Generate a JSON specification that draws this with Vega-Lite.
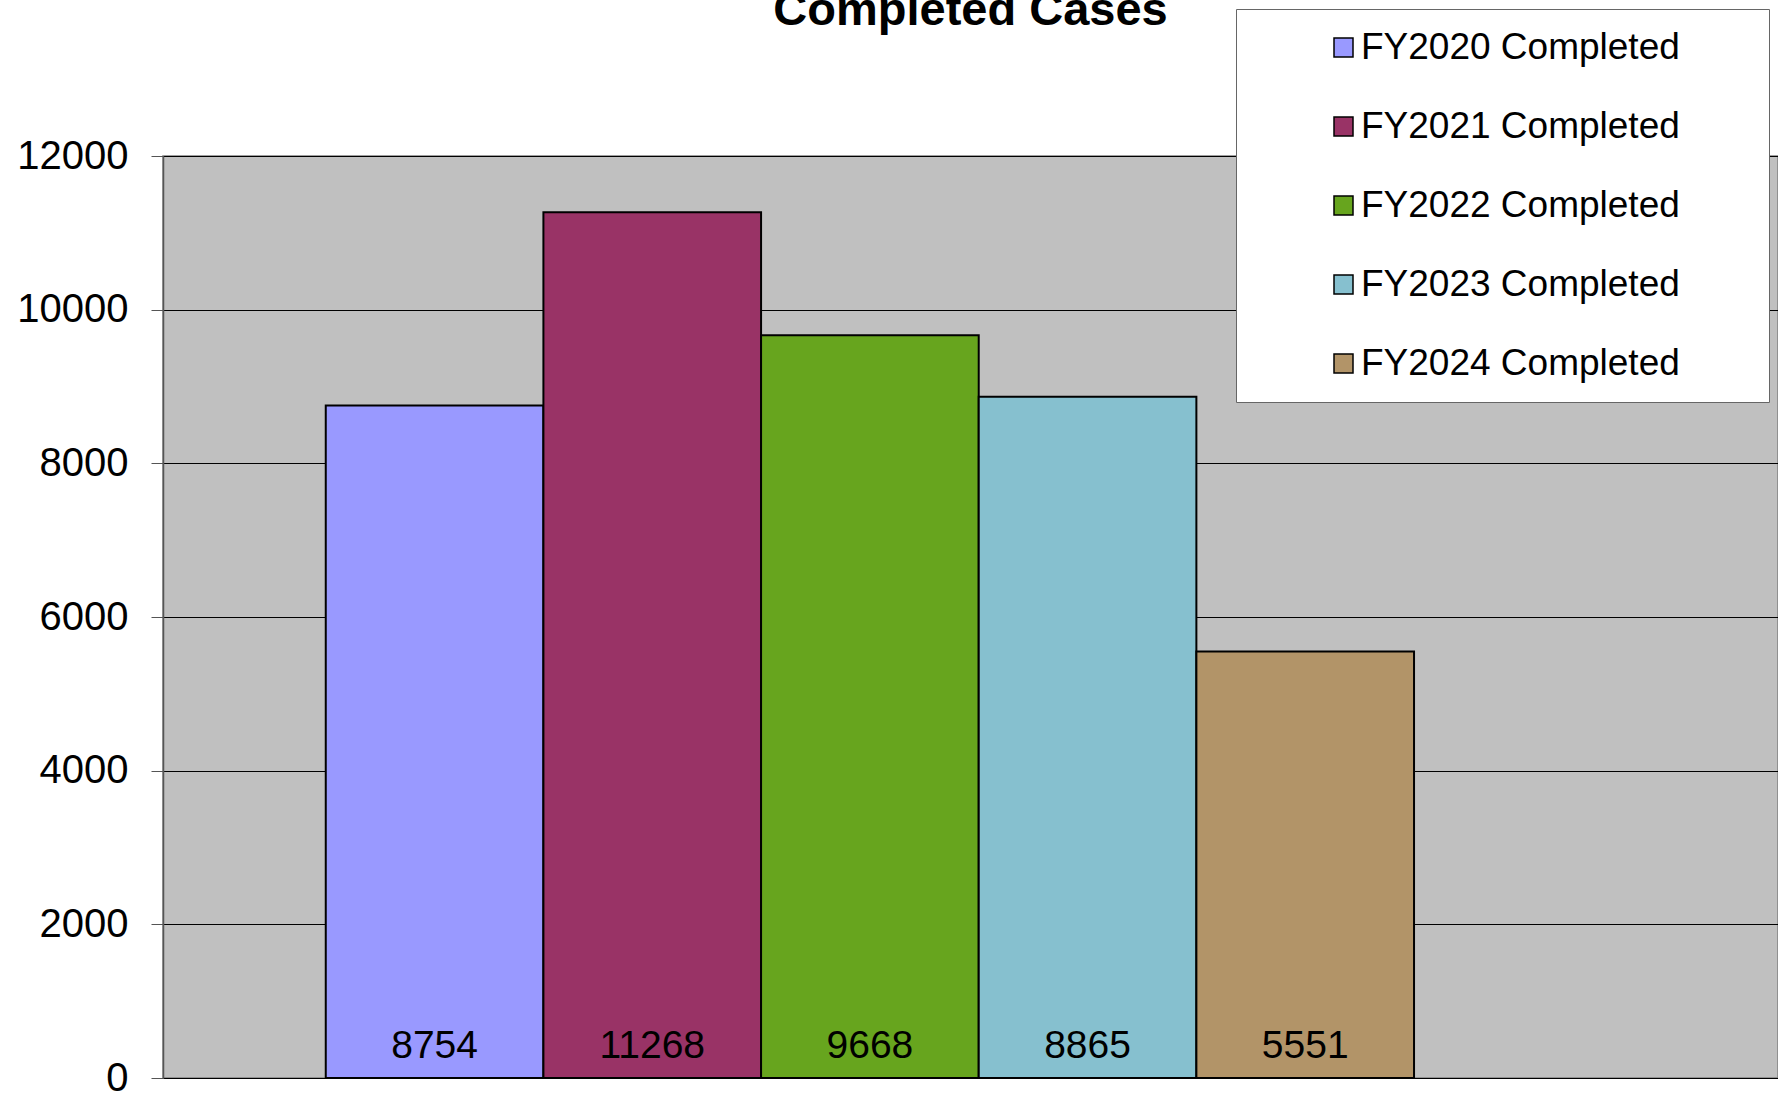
{
  "$schema": "https://vega.github.io/schema/vega-lite/v6.json",
  "width": 1615,
  "height": 922,
  "autosize": {"type": "none"},
  "padding": {"left": 163, "top": 156, "right": 0, "bottom": 15},
  "background": "white",
  "config": {
    "view": {"fill": "#C0C0C0", "stroke": "#808080", "strokeWidth": 1.5},
    "font": "Liberation Sans"
  },
  "title": {
    "text": "Completed Cases",
    "fontSize": 47,
    "fontWeight": "bold",
    "font": "Liberation Sans",
    "color": "black",
    "anchor": "middle",
    "baseline": "alphabetic",
    "offset": -63,
    "frame": "group"
  },
  "data": {
    "values": [
      {"category": "Completed", "series": "FY2020 Completed", "completed": 8754},
      {"category": "Completed", "series": "FY2021 Completed", "completed": 11268},
      {"category": "Completed", "series": "FY2022 Completed", "completed": 9668},
      {"category": "Completed", "series": "FY2023 Completed", "completed": 8865},
      {"category": "Completed", "series": "FY2024 Completed", "completed": 5551}
    ]
  },
  "encoding": {
    "x": {
      "field": "category",
      "type": "nominal",
      "scale": {"paddingInner": 0, "paddingOuter": 0.242, "align": 0.309},
      "axis": null
    },
    "xOffset": {
      "field": "series",
      "type": "nominal",
      "sort": null,
      "scale": {"paddingInner": 0, "paddingOuter": 0}
    }
  },
  "layer": [
    {
      "mark": {"type": "bar", "stroke": "black", "strokeWidth": 2},
      "encoding": {
        "y": {
          "field": "completed",
          "type": "quantitative",
          "scale": {"domain": [0, 12000], "nice": false},
          "axis": {
            "values": [0, 2000, 4000, 6000, 8000, 10000, 12000],
            "title": null,
            "format": "d",
            "labelFontSize": 40,
            "labelFont": "Liberation Sans",
            "labelColor": "black",
            "tickSize": 12,
            "tickColor": "#555555",
            "tickWidth": 1,
            "domainColor": "#555555",
            "domainWidth": 1.5,
            "labelPadding": 23,
            "grid": true,
            "gridColor": "black",
            "gridWidth": 1,
            "gridOpacity": 1
          }
        },
        "color": {
          "field": "series",
          "type": "nominal",
          "sort": null,
          "scale": {
            "domain": ["FY2020 Completed", "FY2021 Completed", "FY2022 Completed", "FY2023 Completed", "FY2024 Completed"],
            "range": ["#9999FF", "#993366", "#67A51E", "#86C0CF", "#B29468"]
          },
          "legend": {
            "orient": "none",
            "legendX": 1073,
            "legendY": -147,
            "title": "\u00a0",
            "titleOrient": "right",
            "titleFontSize": 1,
            "titlePadding": 69,
            "padding": 20,
            "symbolOffset": 69,
            "fillColor": "white",
            "strokeColor": "#666666",
            "symbolType": "square",
            "symbolSize": 361,
            "symbolStrokeColor": "black",
            "symbolStrokeWidth": 1.5,
            "symbolOpacity": 1,
            "labelFontSize": 37,
            "labelFont": "Liberation Sans",
            "labelColor": "black",
            "labelOffset": -1,
            "labelLimit": 600,
            "rowPadding": 41
          }
        }
      }
    },
    {
      "mark": {
        "type": "text",
        "baseline": "alphabetic",
        "dy": -20,
        "fontSize": 39,
        "font": "Liberation Sans",
        "color": "black"
      },
      "encoding": {
        "y": {"datum": 0},
        "text": {"field": "completed", "type": "quantitative", "format": "d"}
      }
    }
  ]
}
